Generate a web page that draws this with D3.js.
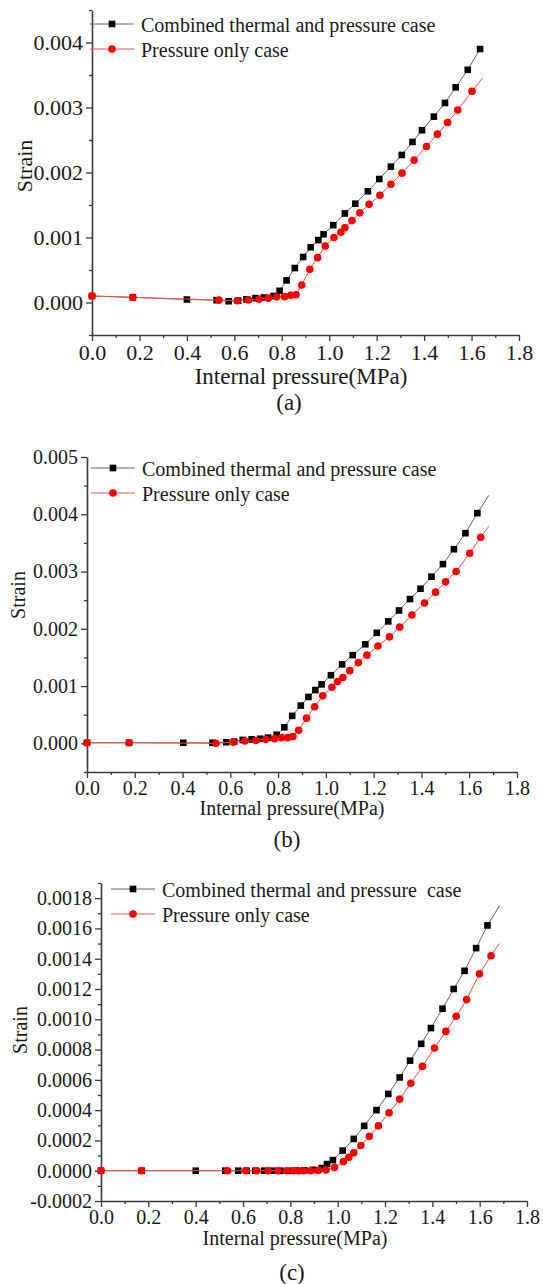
<!DOCTYPE html>
<html>
<head>
<meta charset="utf-8">
<script src="https://cdn.jsdelivr.net/npm/d3@7"></script>
<style>
  body { margin: 0; background: #fff; }
  svg { display: block; }
  svg text { font-family: "Liberation Serif", "Times New Roman", Times, serif; }
</style>
</head>
<body>
<div id="chart"></div>
<script>
// pressure steps (MPa) and strain

// (a)
var aBlackP = [0, 0.172, 0.40, 0.525, 0.576, 0.616, 0.651, 0.689, 0.724, 0.765, 0.791, 0.820, 0.855, 0.890, 0.922, 0.954, 0.976, 1.017, 1.066, 1.110, 1.163, 1.211, 1.260, 1.306, 1.351, 1.391, 1.441, 1.488, 1.533, 1.584, 1.636];
var aBlackS = [0.0001, 0.00008, 0.000046, 0.000036, 0.00002, 0.00003, 0.00005, 0.000067, 0.000077, 0.0001, 0.00018, 0.00034, 0.00053, 0.0007, 0.00085, 0.00096, 0.00105, 0.00119, 0.00137, 0.00152, 0.00171, 0.0019, 0.00209, 0.00227, 0.00247, 0.00265, 0.00286, 0.00307, 0.00331, 0.00358, 0.0039];
var aRedP = [0, 0.172, 0.535, 0.612, 0.660, 0.704, 0.743, 0.779, 0.812, 0.838, 0.860, 0.884, 0.918, 0.951, 0.983, 1.020, 1.049, 1.066, 1.096, 1.129, 1.168, 1.214, 1.260, 1.307, 1.358, 1.410, 1.456, 1.499, 1.542, 1.602];
var aRedS = [0.0001, 0.00008, 0.000036, 0.000026, 0.00004, 0.00005, 0.000067, 0.000087, 0.00009, 0.00011, 0.00012, 0.00027, 0.00051, 0.00069, 0.00087, 0.001, 0.00108, 0.00115, 0.00126, 0.00138, 0.00151, 0.00165, 0.00182, 0.00199, 0.00219, 0.0024, 0.00259, 0.00277, 0.00296, 0.00325];
var aBlackEnd = null;
var aRedEnd = [1.646, 0.00345];

// (b)
var bBlackP = [0, 0.176, 0.403, 0.525, 0.583, 0.616, 0.652, 0.689, 0.725, 0.758, 0.794, 0.826, 0.859, 0.895, 0.927, 0.956, 0.982, 1.021, 1.068, 1.112, 1.165, 1.213, 1.261, 1.306, 1.352, 1.396, 1.442, 1.490, 1.536, 1.584, 1.634];
var bBlackS = [0.00001, 0.00001, 0.00001, 0.00001, 0.00002, 0.00003, 0.00006, 0.00007, 0.00008, 0.0001, 0.00015, 0.00028, 0.00048, 0.00066, 0.00081, 0.00093, 0.00103, 0.00119, 0.00138, 0.00154, 0.00173, 0.00193, 0.00213, 0.00232, 0.00252, 0.0027, 0.00291, 0.00313, 0.00339, 0.00367, 0.00402];
var bRedP = [0, 0.176, 0.540, 0.612, 0.661, 0.707, 0.748, 0.785, 0.814, 0.840, 0.862, 0.886, 0.919, 0.953, 0.987, 1.025, 1.049, 1.071, 1.100, 1.136, 1.172, 1.218, 1.266, 1.309, 1.360, 1.413, 1.459, 1.501, 1.545, 1.602, 1.648];
var bRedS = [0.00001, 0.00001, 0, 0.00002, 0.00004, 0.00005, 0.00007, 0.00008, 0.0001, 0.0001, 0.00012, 0.00023, 0.00044, 0.00064, 0.00083, 0.00098, 0.00108, 0.00115, 0.00127, 0.00141, 0.00154, 0.0017, 0.00186, 0.00203, 0.00224, 0.00245, 0.00264, 0.00282, 0.003, 0.00332, 0.0036];
var bBlackEnd = [1.682, 0.00433];
var bRedEnd = [1.682, 0.00379];

// (c)
var cBlackP = [0, 0.172, 0.40, 0.525, 0.58, 0.616, 0.652, 0.689, 0.725, 0.758, 0.794, 0.826, 0.859, 0.895, 0.933, 0.955, 0.980, 1.021, 1.068, 1.112, 1.164, 1.214, 1.262, 1.306, 1.353, 1.394, 1.443, 1.490, 1.536, 1.585, 1.633];
var cBlackS = [0, 0, 0, 0, 0, 0, 0, 0, 0, 0, 0, 0.000001, 0.000003, 0.000006, 0.000018, 0.000044, 0.00007, 0.000133, 0.00021, 0.000296, 0.0004, 0.000507, 0.000616, 0.000727, 0.000838, 0.000942, 0.00107, 0.0012, 0.00132, 0.00147, 0.00162];
var cRedP = [0, 0.171, 0.535, 0.611, 0.658, 0.706, 0.747, 0.784, 0.813, 0.835, 0.857, 0.886, 0.918, 0.951, 0.987, 1.024, 1.047, 1.068, 1.098, 1.134, 1.172, 1.217, 1.262, 1.309, 1.358, 1.409, 1.457, 1.501, 1.545, 1.599, 1.648];
var cRedS = [0, 0, 0, 0, 0, 0, 0, 0, 0, 0, 0, 0, 0.000002, 0.000005, 0.000022, 0.00006, 0.000089, 0.000118, 0.000167, 0.000227, 0.000296, 0.000382, 0.000473, 0.000578, 0.000689, 0.00081, 0.00092, 0.00102, 0.00113, 0.0013, 0.00142];
var cBlackEnd = [1.684, 0.00175];
var cRedEnd = [1.684, 0.0015];

var xTicks = [0, 0.2, 0.4, 0.6, 0.8, 1.0, 1.2, 1.4, 1.6, 1.8];
var xMinor = [0.1, 0.3, 0.5, 0.7, 0.9, 1.1, 1.3, 1.5, 1.7];
var aYTicks = [0, 0.001, 0.002, 0.003, 0.004];
var aYMinor = [-0.0005, 0.0005, 0.0015, 0.0025, 0.0035, 0.0045];
var bYTicks = [0, 0.001, 0.002, 0.003, 0.004, 0.005];
var bYMinor = [-0.0005, 0.0005, 0.0015, 0.0025, 0.0035, 0.0045];
var cYTicks = [-0.0002, 0, 0.0002, 0.0004, 0.0006, 0.0008, 0.0010, 0.0012, 0.0014, 0.0016, 0.0018];
var cYMinor = [-0.0001, 0.0001, 0.0003, 0.0005, 0.0007, 0.0009, 0.0011, 0.0013, 0.0015, 0.0017, 0.0019];

var legendNames = ["Combined thermal and pressure case", "Pressure only case"];
var legendNamesC = ["Combined thermal and pressure\u00a0 case", "Pressure only case"];
var xTitle = "Internal pressure(MPa)";
var yTitle = "Strain";

var font = "Liberation Serif, Times New Roman, Times, serif";
var axisCol = "#3a3a3a";
var textCol = "#1a1a1a";
var blackLine = "#666";
var redLine = "#ff4a4a";
var redDot = "#ff0000";

var svg = d3.select("#chart").append("svg")
  .attr("width", 543)
  .attr("height", 1284);

var panels = [
  { black: [aBlackP, aBlackS, aBlackEnd], red: [aRedP, aRedS, aRedEnd],
    x0: 92, x1: 519, yDomain: [-0.0005, 0.0045], yB: 335, yT: 10,
    yTicks: aYTicks, yMinor: aYMinor, yDigits: 3, names: legendNames,
    tickFs: 22, titleFs: 23, titleX: 301, titleY: 384, tag: "(a)", tagX: 289, tagY: 410,
    strainX: 24, strainY: 166, legX: 90, legY: 24, legFs: 20 },
  { black: [bBlackP, bBlackS, bBlackEnd], red: [bRedP, bRedS, bRedEnd],
    x0: 87, x1: 517, yDomain: [-0.0005, 0.005], yB: 772, yT: 457,
    yTicks: bYTicks, yMinor: bYMinor, yDigits: 3, names: legendNames,
    tickFs: 20, titleFs: 20, titleX: 292, titleY: 815, tag: "(b)", tagX: 287, tagY: 847,
    strainX: 18, strainY: 595, legX: 91, legY: 468, legFs: 20 },
  { black: [cBlackP, cBlackS, cBlackEnd], red: [cRedP, cRedS, cRedEnd],
    x0: 101, x1: 527, yDomain: [-0.0002, 0.0019], yB: 1201, yT: 883,
    yTicks: cYTicks, yMinor: cYMinor, yDigits: 4, names: legendNamesC,
    tickFs: 20, titleFs: 20, titleX: 295, titleY: 1245, tag: "(c)", tagX: 292, tagY: 1280,
    strainX: 20, strainY: 1030, legX: 111, legY: 889, legFs: 20 }
];

function styleAxis(sel, fs) {
  sel.attr("font-family", null).attr("font-size", null);
  sel.select(".domain").attr("stroke", axisCol).attr("stroke-width", 1.6);
  sel.selectAll(".tick line").attr("stroke", axisCol).attr("stroke-width", 1.3);
  sel.selectAll(".tick text").attr("fill", textCol)
    .style("font-family", font).style("font-size", fs + "px");
}

function pts(series) {
  return d3.zip(series[0], series[1]);
}

panels.forEach(function(c) {
  var x = d3.scaleLinear().domain([0, 1.8]).range([c.x0, c.x1]);
  var y = d3.scaleLinear().domain(c.yDomain).range([c.yB, c.yT]);
  var g = svg.append("g");

  // minor ticks
  g.append("g").attr("transform", "translate(0," + c.yB + ")")
    .call(d3.axisBottom(x).tickValues(xMinor).tickSize(3).tickSizeOuter(0).tickFormat(""))
    .call(function(s) { styleAxis(s, c.tickFs); s.select(".domain").remove(); });
  g.append("g").attr("transform", "translate(" + c.x0 + ",0)")
    .call(d3.axisLeft(y).tickValues(c.yMinor).tickSize(3).tickSizeOuter(0).tickFormat(""))
    .call(function(s) { styleAxis(s, c.tickFs); s.select(".domain").remove(); });

  // major axes
  g.append("g").attr("transform", "translate(0," + c.yB + ")")
    .call(d3.axisBottom(x).tickValues(xTicks).tickSize(6).tickSizeOuter(0).tickPadding(3)
      .tickFormat(function(d) { return d.toFixed(1); }))
    .call(function(s) { styleAxis(s, c.tickFs); });
  g.append("g").attr("transform", "translate(" + c.x0 + ",0)")
    .call(d3.axisLeft(y).tickValues(c.yTicks).tickSize(6).tickSizeOuter(0).tickPadding(3)
      .tickFormat(function(d) { return d.toFixed(c.yDigits); }))
    .call(function(s) { styleAxis(s, c.tickFs); });

  // axis titles
  g.append("text").attr("x", c.titleX).attr("y", c.titleY)
    .attr("text-anchor", "middle").style("font-size", c.titleFs + "px")
    .attr("fill", textCol).text(xTitle);
  g.append("text").attr("x", c.tagX).attr("y", c.tagY)
    .attr("text-anchor", "middle").style("font-size", "23px")
    .attr("fill", textCol).text(c.tag);
  g.append("text")
    .attr("transform", "translate(" + c.strainX + "," + c.strainY + ") rotate(-90)")
    .attr("dy", "0.35em").attr("text-anchor", "middle")
    .style("font-size", c.tickFs + "px")
    .attr("fill", textCol).text(yTitle);

  var line = d3.line().x(function(d) { return x(d[0]); }).y(function(d) { return y(d[1]); });

  // black series
  var bp = pts(c.black);
  var bl = c.black[2] ? bp.concat([c.black[2]]) : bp;
  g.append("path").datum(bl).attr("d", line)
    .attr("fill", "none").attr("stroke", blackLine).attr("stroke-width", 1);
  g.append("g").selectAll("rect").data(bp).enter().append("rect")
    .attr("x", function(d) { return x(d[0]) - 3.3; })
    .attr("y", function(d) { return y(d[1]) - 3.3; })
    .attr("width", 6.6).attr("height", 6.6).attr("fill", "#000");

  // red series
  var rp = pts(c.red);
  var rl = c.red[2] ? rp.concat([c.red[2]]) : rp;
  g.append("path").datum(rl).attr("d", line)
    .attr("fill", "none").attr("stroke", redLine).attr("stroke-width", 1);
  g.append("g").selectAll("circle").data(rp).enter().append("circle")
    .attr("cx", function(d) { return x(d[0]); })
    .attr("cy", function(d) { return y(d[1]); })
    .attr("r", 3.8).attr("fill", redDot);

  // legend
  var lg = g.append("g");
  [0, 1].forEach(function(i) {
    var ly = c.legY + i * 25;
    lg.append("line").attr("x1", c.legX).attr("x2", c.legX + 44)
      .attr("y1", ly).attr("y2", ly)
      .attr("stroke", i ? redLine : blackLine).attr("stroke-width", 1);
    if (i) {
      lg.append("circle").attr("cx", c.legX + 22).attr("cy", ly).attr("r", 3.8).attr("fill", redDot);
    } else {
      lg.append("rect").attr("x", c.legX + 22 - 3.3).attr("y", ly - 3.3)
        .attr("width", 6.6).attr("height", 6.6).attr("fill", "#000");
    }
    lg.append("text").attr("x", c.legX + 51).attr("y", ly + 7.5)
      .style("font-size", c.legFs + "px")
      .attr("fill", textCol).text(c.names[i]);
  });
});
</script>
</body>
</html>
